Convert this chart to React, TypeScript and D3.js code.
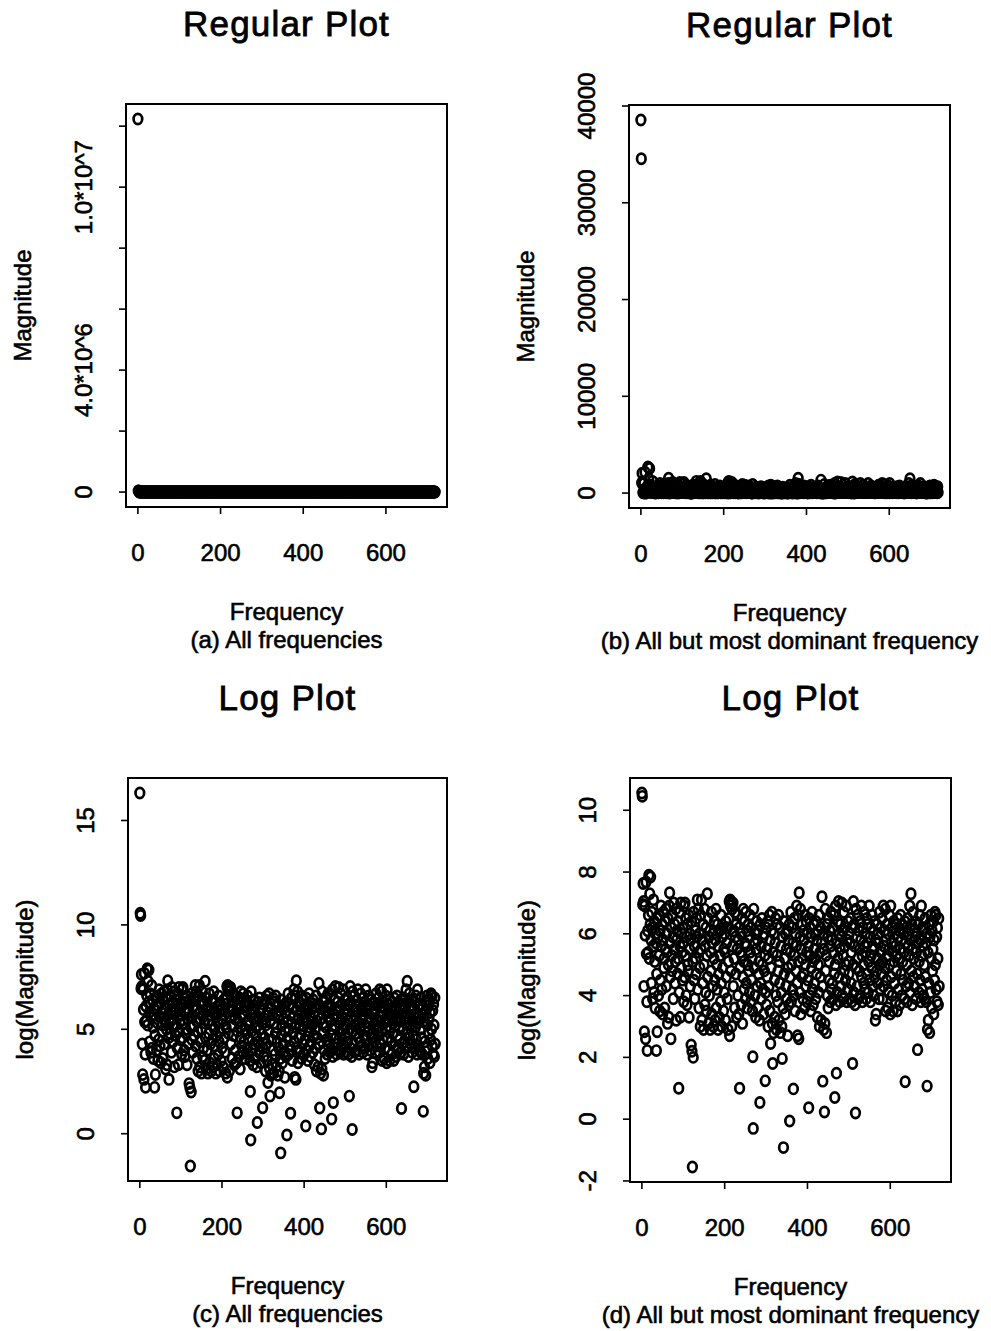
import React from "react";
import * as d3 from "d3";

// log(Magnitude) per frequency index (index 0 = most dominant frequency)
const logMagnitude: number[] = [
  16.32, 10.56, 10.45, 6.95, 7.63, 7.05, 4.3, 2.83, 6.9, 5.95, 2.6, 7.68, 5.35, 3.8, 2.22, 6.1, 5.4, 6.6, 7.9, 5.2,
  7.3, 6.3, 7.84, 5.8, 4.4, 6.7, 6.2, 3.9, 5.6, 7.1, 4.1, 6.4, 5.1, 3.6, 6.0, 5.7, 2.22, 4.7, 2.83, 6.5,
  5.9, 4.0, 6.6, 5.3, 3.5, 6.1, 4.5, 6.9, 5.6, 4.2, 6.3, 3.4, 5.8, 6.7, 4.9, 5.2, 3.6, 6.4, 5.5, 6.8,
  4.3, 6.0, 5.4, 3.1, 6.5, 5.0, 3.3, 6.9, 7.33, 5.7, 4.6, 2.6, 6.2, 5.3, 4.8, 6.6, 5.9, 3.9, 7.0, 5.5,
  6.3, 4.4, 5.1, 6.8, 3.2, 5.8, 6.1, 4.7, 6.4, 5.2, 1.0, 4.1, 6.7, 5.6, 3.3, 7.0, 4.9, 6.0, 5.4, 4.5,
  6.2, 5.7, 3.8, 6.9, 4.6, 7.0, 5.3, 6.5, 4.0, 5.9, 3.7, 6.3, 5.0, 4.8, 6.6, 3.3, 5.5, 6.0, 4.3, 5.8,
  2.4, 6.4, 2.2, -1.55, 5.1, 2.0, 6.7, 4.5, 5.6, 3.9, 6.1, 5.2, 4.7, 6.5, 5.9, 7.1, 4.2, 6.8, 5.4, 3.6,
  6.0, 4.9, 3.0, 6.6, 5.5, 7.1, 3.2, 5.8, 4.4, 6.3, 2.9, 5.0, 6.8, 3.7, 5.6, 4.1, 6.2, 3.5, 5.3, 7.3,
  4.6, 6.5, 3.1, 5.9, 4.0, 6.1, 2.9, 5.4, 4.8, 6.7, 3.4, 5.7, 4.3, 6.0, 3.0, 5.2, 6.4, 4.5, 3.2, 5.8,
  6.8, 3.6, 5.0, 4.2, 6.3, 2.9, 5.6, 4.7, 3.3, 6.1, 5.3, 3.8, 6.6, 4.4, 3.0, 5.9, 4.9, 6.2, 3.5, 5.5,
  4.1, 6.0, 5.4, 3.2, 6.4, 4.6, 5.7, 3.9, 6.2, 2.9, 5.1, 6.5, 7.05, 2.7, 7.1, 6.9, 4.8, 7.0, 3.0, 6.8,
  5.6, 7.0, 4.3, 6.1, 5.2, 3.6, 6.7, 5.9, 4.7, 6.3, 3.3, 5.5, 6.6, 4.0, 5.8, 3.4, 6.2, 1.0, 4.9, 5.4,
  6.0, 3.7, 5.3, 6.5, 3.1, 4.6, 6.8, 5.1, 4.2, 6.4, 5.7, 3.9, 6.7, 4.4, 5.6, 6.1, 3.6, 5.0, 6.3, 4.8,
  5.9, 4.1, 6.6, 5.4, 3.8, 6.2, 4.5, 5.2, 3.5, 2.02, -0.3, 6.8, 4.9, 5.7, 4.0, 6.0, 3.3, 5.5, 6.4, 4.3,
  5.8, 3.6, 6.1, 4.7, 5.1, 3.2, 0.54, 6.3, 4.4, 5.6, 3.9, 6.5, 5.0, 4.2, 5.9, 3.4, 6.0, 4.8, 5.3, 1.24,
  4.1, 6.2, 3.7, 5.5, 4.6, 6.4, 3.0, 5.2, 4.3, 6.6, 3.5, 5.8, 2.45, 4.9, 6.1, 6.7, 3.1, 1.8, 5.4, 2.8,
  6.0, 4.5, 3.3, 5.7, 6.5, 4.0, 2.9, 5.3, 6.3, 3.8, 4.8, 6.6, 3.2, 5.1, 4.4, 6.2, 2.8, 5.6, 4.1, 3.0,
  1.96, 5.9, 3.6, -0.92, 6.4, 4.7, 5.2, 3.4, 6.0, 4.3, 5.5, 3.9, 6.1, 2.7, 4.9, 5.8, 3.7, 6.3, -0.06, 4.6,
  5.4, 6.7, 3.8, 5.0, 6.2, 4.2, 5.7, 0.98, 4.0, 6.5, 5.3, 3.5, 6.0, 4.8, 5.6, 6.9, 4.4, 2.7, 6.6, 5.1,
  2.6, 7.33, 4.1, 5.9, 6.8, 3.4, 5.5, 4.6, 6.3, 5.2, 3.9, 6.1, 4.7, 5.8, 3.6, 6.6, 5.0, 4.3, 6.4, 5.4,
  3.8, 6.0, 4.5, 5.6, 0.37, 6.5, 4.0, 5.3, 6.2, 3.5, 5.9, 4.9, 6.7, 4.2, 5.1, 3.7, 6.3, 5.5, 4.4, 6.0,
  5.2, 3.9, 6.4, 4.7, 5.8, 3.3, 6.1, 5.0, 4.1, 6.6, 3.0, 5.4, 4.6, 6.2, 3.2, 5.7, 7.2, 4.3, 1.23, 6.0,
  2.9, 5.5, 0.23, 3.1, 6.8, 4.8, 5.3, 2.8, 6.3, 4.0, 5.9, 3.6, 6.5, 5.1, 4.5, 6.1, 3.8, 5.6, 6.7, 4.2,
  5.8, 4.4, 6.2, 3.9, 5.4, 6.6, 4.7, 0.7, 5.0, 6.9, 3.7, 1.49, 5.7, 4.1, 6.4, 5.2, 7.05, 4.6, 6.0, 3.8,
  5.5, 6.3, 4.3, 5.9, 7.0, 4.0, 6.1, 5.3, 3.9, 6.7, 4.8, 5.6, 6.2, 4.5, 5.0, 6.9, 3.8, 5.8, 4.2, 6.4,
  5.1, 4.7, 6.0, 3.9, 5.7, 6.5, 4.4, 5.4, 3.8, 6.2, 1.8, 5.0, 7.05, 4.1, 6.3, 5.6, 3.7, 0.2, 6.8, 4.9,
  5.9, 4.3, 6.6, 5.2, 3.9, 6.1, 4.8, 5.5, 6.4, 4.0, 5.8, 6.9, 4.6, 5.3, 3.8, 6.2, 5.0, 4.4, 6.7, 5.6,
  4.2, 6.0, 5.4, 3.9, 6.5, 4.7, 5.7, 6.3, 4.1, 5.1, 6.9, 4.5, 5.9, 3.8, 6.2, 5.3, 4.9, 6.6, 4.3, 5.6,
  6.1, 4.0, 5.5, 6.4, 4.6, 3.2, 5.8, 3.4, 4.8, 6.3, 5.2, 4.4, 6.0, 5.7, 3.9, 6.7, 5.0, 4.2, 6.2, 5.4,
  4.7, 6.5, 5.1, 3.9, 6.9, 4.3, 5.6, 6.1, 4.9, 6.8, 3.5, 5.8, 4.5, 6.3, 5.3, 3.6, 6.0, 4.1, 5.5, 6.6,
  5.0, 3.4, 6.9, 4.6, 5.7, 6.2, 4.0, 5.4, 3.5, 6.4, 5.1, 4.4, 6.0, 5.6, 3.8, 6.3, 4.8, 5.3, 3.5, 6.5,
  5.9, 4.2, 5.2, 6.1, 3.7, 5.5, 6.6, 4.7, 5.8, 4.0, 6.3, 5.1, 4.5, 6.0, 5.4, 3.9, 6.4, 1.21, 5.7, 4.3,
  6.2, 5.0, 3.8, 6.5, 5.6, 4.4, 6.0, 5.3, 6.9, 4.1, 5.8, 7.3, 4.8, 6.3, 3.7, 5.5, 6.7, 4.6, 5.2, 6.1,
  4.3, 5.9, 6.4, 3.9, 5.4, 6.0, 4.7, 2.25, 5.7, 6.3, 4.1, 5.1, 6.6, 4.5, 5.8, 3.8, 6.9, 5.3, 4.2, 6.1,
  5.6, 4.0, 6.2, 5.0, 3.9, 6.5, 4.6, 5.7, 3.8, 6.0, 1.07, 2.9, 5.4, 3.2, 4.4, 6.3, 2.8, 5.9, 4.1, 6.6,
  5.2, 3.6, 6.1, 4.8, 5.5, 6.4, 3.4, 5.8, 4.5, 6.7, 5.0, 6.6, 4.2, 5.9, 3.8, 6.2, 5.2, 3.7, 6.5, 4.3,
];

const frequencyTicks = [0, 200, 400, 600];
const regularTicksAll = [0, 2e6, 4e6, 6e6, 8e6, 1e7, 1.2e7];
const regularTickLabelsAll = ["0", "", "4.0*10^6", "", "", "1.0*10^7", ""];
const regularTicksRest = [0, 10000, 20000, 30000, 40000];
const regularTickLabelsRest = ["0", "10000", "20000", "30000", "40000"];
const logTicksAll = [0, 5, 10, 15];
const logTickLabelsAll = ["0", "5", "10", "15"];
const logTicksRest = [-2, 0, 2, 4, 6, 8, 10];
const logTickLabelsRest = ["-2", "0", "2", "4", "6", "8", "10"];
const panelTitles = ["Regular Plot", "Regular Plot", "Log Plot", "Log Plot"];
const captions = [
  "(a) All frequencies",
  "(b) All but most dominant frequency",
  "(c) All frequencies",
  "(d) All but most dominant frequency",
];
const yLabels = ["Magnitude", "Magnitude", "log(Magnitude)", "log(Magnitude)"];
const xLabel = "Frequency";

const FONT = "'Liberation Sans', Arial, Helvetica, sans-serif";
const TEXT_STROKE = 0.6;

type Box = { left: number; right: number; top: number; bottom: number };

function padded(vals: number[]): [number, number] {
  const [lo, hi] = d3.extent(vals) as [number, number];
  const p = (hi - lo) * 0.04;
  return [lo - p, hi + p];
}

function Panel(props: {
  box: Box;
  xs: number[];
  ys: number[];
  yTicks: number[];
  yTickLabels: string[];
  title: string;
  caption: string;
  yLabel: string;
}) {
  const { box, xs, ys, yTicks, yTickLabels, title, caption, yLabel } = props;
  const x = d3.scaleLinear().domain(padded(xs)).range([box.left, box.right]);
  const y = d3.scaleLinear().domain(padded(ys)).range([box.bottom, box.top]);
  const cx = (box.left + box.right) / 2;
  const cy = (box.top + box.bottom) / 2;
  const tick = 7;
  return (
    <g>
      <text x={cx} y={box.top - 68} textAnchor="middle" fontSize={35} letterSpacing={1.2}
        fontFamily={FONT} stroke="#000" strokeWidth={0.8}>{title}</text>
      <rect x={box.left} y={box.top} width={box.right - box.left} height={box.bottom - box.top}
        fill="none" stroke="#000" strokeWidth={2} />
      {frequencyTicks.map((t) => (
        <g key={"xt" + t}>
          <line x1={x(t)} x2={x(t)} y1={box.bottom} y2={box.bottom + tick} stroke="#000" strokeWidth={1.6} />
          <text x={x(t)} y={box.bottom + 53.5} textAnchor="middle" fontSize={24} fontFamily={FONT}
            stroke="#000" strokeWidth={TEXT_STROKE}>{t}</text>
        </g>
      ))}
      {yTicks.map((t, i) => (
        <g key={"yt" + t}>
          <line x1={box.left - tick} x2={box.left} y1={y(t)} y2={y(t)} stroke="#000" strokeWidth={1.6} />
          {yTickLabels[i] ? (
            <text transform={`translate(${box.left - 34},${y(t)}) rotate(-90)`} textAnchor="middle"
              fontSize={24} fontFamily={FONT} stroke="#000" strokeWidth={TEXT_STROKE}>{yTickLabels[i]}</text>
          ) : null}
        </g>
      ))}
      <g fill="none" stroke="#000" strokeWidth={2.7}>
        {xs.map((xv, i) => (
          <ellipse key={i} cx={x(xv)} cy={y(ys[i])} rx={4.3} ry={5.1} />
        ))}
      </g>
      <text x={cx} y={box.bottom + 113} textAnchor="middle" fontSize={24} fontFamily={FONT}
        stroke="#000" strokeWidth={TEXT_STROKE}>{xLabel}</text>
      <text x={cx} y={box.bottom + 141} textAnchor="middle" fontSize={24} fontFamily={FONT}
        stroke="#000" strokeWidth={TEXT_STROKE}>{caption}</text>
      <text transform={`translate(${box.left - 95},${cy}) rotate(-90)`} textAnchor="middle"
        fontSize={24} fontFamily={FONT} stroke="#000" strokeWidth={TEXT_STROKE}>{yLabel}</text>
    </g>
  );
}

export default function App() {
  const freqAll = logMagnitude.map((_, i) => i);
  const restLog = logMagnitude.slice(1);
  const freqRest = restLog.map((_, i) => i);
  const magAll = logMagnitude.map((v) => Math.exp(v));
  const magRest = restLog.map((v) => Math.exp(v));

  const boxA: Box = { left: 126, right: 447, top: 104, bottom: 507 };
  const boxB: Box = { left: 629, right: 950, top: 105, bottom: 508 };
  const boxC: Box = { left: 128, right: 447, top: 778, bottom: 1181 };
  const boxD: Box = { left: 630, right: 951, top: 778, bottom: 1182 };

  return (
    <svg width={991} height={1331} viewBox="0 0 991 1331"
      style={{ position: "absolute", left: 0, top: 0, background: "#fff" }}>
      <rect x={0} y={0} width={991} height={1331} fill="#fff" />
      <Panel box={boxA} xs={freqAll} ys={magAll} yTicks={regularTicksAll} yTickLabels={regularTickLabelsAll}
        title={panelTitles[0]} caption={captions[0]} yLabel={yLabels[0]} />
      <Panel box={boxB} xs={freqRest} ys={magRest} yTicks={regularTicksRest} yTickLabels={regularTickLabelsRest}
        title={panelTitles[1]} caption={captions[1]} yLabel={yLabels[1]} />
      <Panel box={boxC} xs={freqAll} ys={logMagnitude} yTicks={logTicksAll} yTickLabels={logTickLabelsAll}
        title={panelTitles[2]} caption={captions[2]} yLabel={yLabels[2]} />
      <Panel box={boxD} xs={freqRest} ys={restLog} yTicks={logTicksRest} yTickLabels={logTickLabelsRest}
        title={panelTitles[3]} caption={captions[3]} yLabel={yLabels[3]} />
    </svg>
  );
}
